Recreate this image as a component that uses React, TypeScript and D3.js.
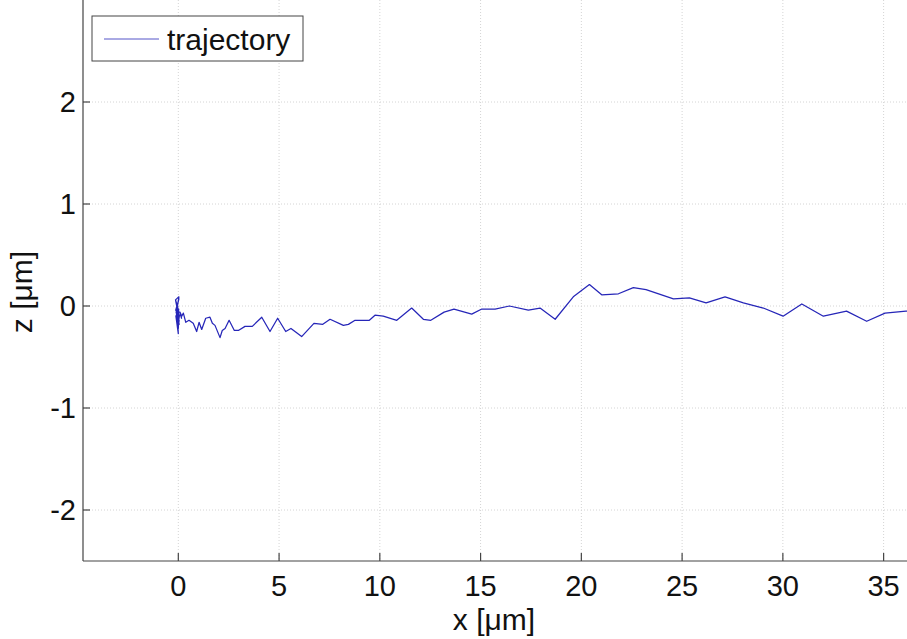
import React from "react";
import * as d3 from "d3";

const clusterX = [0.0, -0.1, 0.02, -0.14, 0.03, -0.06, 0.04, -0.12, 0.01, -0.13, 0.03, -0.04, 0.02, -0.11, 0.04, -0.08, 0.0, -0.12, 0.02, -0.05, 0.03, 0.0, 0.02, -0.07, 0.04, -0.02, 0.05, 0.1, 0.16, 0.08, 0.17];
const clusterZ = [-0.05, 0.03, -0.1, 0.06, 0.09, -0.02, -0.15, 0.05, -0.08, -0.04, 0.07, 0.01, -0.12, -0.06, -0.18, 0.0, -0.27, -0.1, -0.03, -0.16, -0.09, -0.22, -0.05, -0.12, -0.14, -0.2, -0.1, -0.08, -0.12, -0.06, -0.1];

const pathX = [0.25, 0.37, 0.53, 0.74, 0.91, 1.03, 1.16, 1.36, 1.57, 1.69, 1.82, 2.07, 2.18, 2.32, 2.52, 2.78, 2.98, 3.31, 3.67, 4.14, 4.55, 4.93, 5.33, 5.59, 5.79, 6.12, 6.73, 7.17, 7.53, 8.19, 8.44, 8.77, 9.48, 9.76, 10.17, 10.84, 11.58, 12.16, 12.53, 13.19, 13.68, 14.56, 15.06, 15.72, 16.43, 17.37, 17.95, 18.7, 19.6, 20.4, 21.01, 21.84, 22.58, 23.21, 24.57, 25.36, 26.19, 27.13, 28.04, 29.03, 30.01, 30.94, 32.01, 33.16, 34.16, 35.07, 36.11, 37.3];
const pathZ = [-0.07, -0.16, -0.14, -0.17, -0.25, -0.16, -0.23, -0.12, -0.11, -0.17, -0.19, -0.31, -0.24, -0.22, -0.14, -0.24, -0.24, -0.2, -0.2, -0.11, -0.25, -0.12, -0.25, -0.22, -0.25, -0.3, -0.17, -0.18, -0.13, -0.19, -0.18, -0.14, -0.14, -0.09, -0.1, -0.14, -0.02, -0.13, -0.14, -0.06, -0.03, -0.08, -0.03, -0.03, 0.0, -0.04, -0.02, -0.13, 0.09, 0.21, 0.11, 0.12, 0.18, 0.16, 0.07, 0.08, 0.03, 0.09, 0.03, -0.02, -0.1, 0.02, -0.1, -0.05, -0.15, -0.07, -0.05, -0.03];

const xTicks = [0, 5, 10, 15, 20, 25, 30, 35];
const yTicks = [-2, -1, 0, 1, 2];
const legendLabel = "trajectory";

export default function App() {
  const W = 907, H = 639;
  const left = 83, right = 907, top = 0, bottom = 561;
  const x = d3.scaleLinear().domain([-4.73, 36.16]).range([left, right]);
  const y = d3.scaleLinear().domain([-2.5, 3.0]).range([bottom, top]);
  const pts: [number, number][] = [
    ...clusterX.map((v, i) => [v, clusterZ[i]] as [number, number]),
    ...pathX.map((v, i) => [v, pathZ[i]] as [number, number]),
  ];
  const line = d3.line<[number, number]>().x((d) => x(d[0])).y((d) => y(d[1]));
  const font = "'Liberation Sans', Arial, Helvetica, sans-serif";
  return (
    <svg width={W} height={H} style={{ position: "absolute", left: 0, top: 0, background: "#fff" }} fontFamily={font}>
      <rect x={0} y={0} width={W} height={H} fill="#fff" />
      <defs>
        <clipPath id="plotclip">
          <rect x={left} y={top} width={right - left} height={bottom - top} />
        </clipPath>
      </defs>
      {xTicks.map((t) => (
        <line key={"gx" + t} x1={x(t)} x2={x(t)} y1={top} y2={bottom} stroke="#d4d4d4" strokeWidth={1} strokeDasharray="1,2" />
      ))}
      {yTicks.map((t) => (
        <line key={"gy" + t} x1={left} x2={right} y1={y(t)} y2={y(t)} stroke="#d4d4d4" strokeWidth={1} strokeDasharray="1,2" />
      ))}
      <path d={line(pts) || ""} fill="none" stroke="#2626b8" strokeWidth={1.25} strokeLinejoin="round" clipPath="url(#plotclip)" />
      <line x1={left} x2={right} y1={bottom} y2={bottom} stroke="#444" strokeWidth={1.2} />
      <line x1={left} x2={left} y1={top} y2={bottom} stroke="#444" strokeWidth={1.2} />
      {xTicks.map((t) => (
        <g key={"tx" + t}>
          <line x1={x(t)} x2={x(t)} y1={bottom} y2={bottom - 8} stroke="#444" strokeWidth={1.2} />
          <text x={x(t)} y={596} textAnchor="middle" fontSize={29} fill="#111">{t}</text>
        </g>
      ))}
      {yTicks.map((t) => (
        <g key={"ty" + t}>
          <line x1={left} x2={left + 7} y1={y(t)} y2={y(t)} stroke="#444" strokeWidth={1.2} />
          <text x={76} y={y(t) + 10} textAnchor="end" fontSize={29} fill="#111">{t < 0 ? "-" + Math.abs(t) : t}</text>
        </g>
      ))}
      <text x={494} y={630} textAnchor="middle" fontSize={30} fill="#111">x [μm]</text>
      <text transform="translate(32,292) rotate(-90)" textAnchor="middle" fontSize={30} fill="#111">z [μm]</text>
      <rect x={92} y={16} width={211} height={45} fill="#fff" stroke="#444" strokeWidth={1} />
      <line x1={104} x2={159} y1={39} y2={39} stroke="#5555c8" strokeWidth={1} />
      <text x={167} y={50} fontSize={30} fill="#111">{legendLabel}</text>
    </svg>
  );
}
